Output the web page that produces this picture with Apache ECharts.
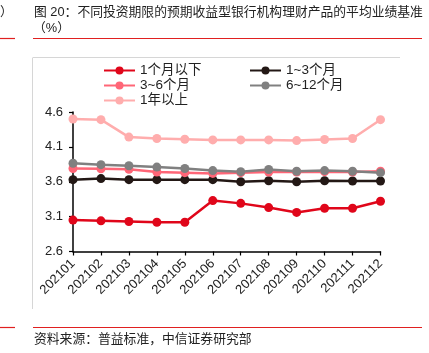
<!DOCTYPE html>
<html>
<head>
<meta charset="utf-8">
<script src="https://cdn.jsdelivr.net/npm/echarts@6/dist/echarts.min.js"></script>
<style>
html,body{margin:0;padding:0;background:#fff;}
#c{width:429px;height:353px;}
</style>
</head>
<body>
<div id="c"></div>
<script>
const categories = ['202101','202102','202103','202104','202105','202106','202107','202108','202109','202110','202111','202112'];
const seriesNames = ['1个月以下','1~3个月','3~6个月','6~12个月','1年以上'];
const below1m  = [3.05, 3.04, 3.03, 3.02, 3.02, 3.33, 3.29, 3.23, 3.16, 3.22, 3.22, 3.32];
const m1to3    = [3.63, 3.645, 3.63, 3.63, 3.63, 3.63, 3.60, 3.615, 3.60, 3.615, 3.61, 3.61];
const m3to6    = [3.79, 3.785, 3.78, 3.74, 3.73, 3.72, 3.73, 3.74, 3.74, 3.745, 3.74, 3.75];
const m6to12   = [3.865, 3.845, 3.83, 3.81, 3.79, 3.76, 3.745, 3.775, 3.75, 3.76, 3.75, 3.73];
const over1y   = [4.50, 4.49, 4.24, 4.22, 4.21, 4.20, 4.20, 4.20, 4.19, 4.205, 4.22, 4.49];
const yTicks   = [2.6, 3.1, 3.6, 4.1, 4.6];

const colors = ['#e0061a', '#231815', '#ff6677', '#808080', '#ffadad'];
const dataList = [below1m, m1to3, m3to6, m6to12, over1y];
const FONT = '"Liberation Sans", "Noto Sans CJK SC", sans-serif';

const chart = echarts.init(document.getElementById('c'), null, {renderer: 'canvas'});

const series = seriesNames.map((n, i) => ({
  name: n,
  type: 'line',
  data: dataList[i],
  symbol: 'circle',
  symbolSize: 9,
  color: colors[i],
  lineStyle: {width: 2.5, color: colors[i]},
  itemStyle: {color: colors[i]},
  emphasis: {disabled: true},
  animation: false
}));

const legendCommon = {
  orient: 'vertical',
  padding: 0,
  itemWidth: 31,
  itemHeight: 10,
  itemGap: 0,
  textStyle: {fontSize: 13.5, color: '#222', fontFamily: FONT, lineHeight: 15}
};

chart.setOption({
  animation: false,
  backgroundColor: '#fff',
  textStyle: {fontFamily: FONT},
  grid: {left: 73, right: 48.5, top: 112, bottom: 101.5, containLabel: false},
  legend: [
    Object.assign({}, legendCommon, {left: 103, top: 63, data: ['1个月以下','3~6个月','1年以上']}),
    Object.assign({}, legendCommon, {left: 249, top: 63, data: ['1~3个月','6~12个月']})
  ],
  xAxis: {
    type: 'category',
    data: categories,
    boundaryGap: false,
    axisLine: {lineStyle: {color: '#000', width: 1.5}},
    axisTick: {show: true, alignWithLabel: true, length: 4, lineStyle: {color: '#000', width: 1.2}},
    axisLabel: {rotate: 45, fontSize: 13, color: '#222', margin: 10, interval: 0, fontFamily: FONT},
    splitLine: {show: false}
  },
  yAxis: {
    type: 'value',
    min: 2.6,
    max: 4.6,
    axisLine: {show: true, lineStyle: {color: '#000', width: 1.5}},
    axisTick: {show: true, length: 4, customValues: yTicks, lineStyle: {color: '#000', width: 1.2}},
    axisLabel: {customValues: yTicks, fontSize: 13, color: '#222', margin: 10, fontFamily: FONT,
      formatter: v => v.toFixed(1)},
    splitLine: {show: false}
  },
  graphic: [
    {type: 'text', left: 34, top: 6, style: {text: '图 20：不同投资期限的预期收益型银行机构理财产品的平均业绩基准', fontSize: 12.8, fill: '#222', fontFamily: FONT}},
    {type: 'text', left: 33, top: 22, style: {text: '（%）', fontSize: 12.8, fill: '#222', fontFamily: FONT}},
    {type: 'text', left: 0, top: 6, style: {text: '）', fontSize: 12.8, fill: '#222', fontFamily: FONT}},
    {type: 'line', shape: {x1: 33, y1: 38.5, x2: 422, y2: 38.5}, style: {stroke: '#e02020', lineWidth: 1.2}},
    {type: 'line', shape: {x1: 0, y1: 38.5, x2: 15, y2: 38.5}, style: {stroke: '#e02020', lineWidth: 1.2}},
    {type: 'line', shape: {x1: 33, y1: 57.5, x2: 400, y2: 57.5}, style: {stroke: '#d6d6d6', lineWidth: 1}},
    {type: 'line', shape: {x1: 32.5, y1: 57.5, x2: 32.5, y2: 309}, style: {stroke: '#d6d6d6', lineWidth: 1}},
    {type: 'line', shape: {x1: 33, y1: 327.5, x2: 422, y2: 327.5}, style: {stroke: '#e02020', lineWidth: 1.2}},
    {type: 'line', shape: {x1: 0, y1: 327.5, x2: 15, y2: 327.5}, style: {stroke: '#e02020', lineWidth: 1.2}},
    {type: 'text', left: 34, top: 333, style: {text: '资料来源：普益标准，中信证券研究部', fontSize: 12.8, fill: '#222', fontFamily: FONT}}
  ],
  series: series
});
</script>
</body>
</html>
